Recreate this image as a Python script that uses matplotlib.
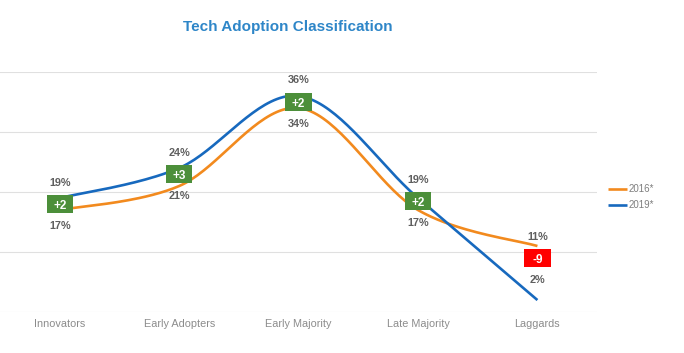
import numpy as np
import matplotlib.pyplot as plt
from matplotlib.patches import Rectangle

plt.rcParams['font.family'] = ['Liberation Sans', 'DejaVu Sans']

categories = ['Innovators', 'Early Adopters', 'Early Majority', 'Late Majority', 'Laggards']
v2016 = [17, 21, 34, 17, 11]
v2019 = [19, 24, 36, 19, 2]
diffs = ['+2', '+3', '+2', '+2', '-9']
box_colors = ['#4C8F3A', '#4C8F3A', '#4C8F3A', '#4C8F3A', '#FF0000']
box_y = [18, 23, 35, 18.5, 9]

orange = '#F28A1E'
blue = '#1769BE'


def smooth(xs, ys, n=40):
    # catmull-rom style smoothing like office charts
    p = np.column_stack([xs, ys]).astype(float)
    p = np.vstack([p[0], p, p[-1]])
    out = []
    for i in range(1, len(p) - 2):
        p0, p1, p2, p3 = p[i - 1], p[i], p[i + 1], p[i + 2]
        c1 = p1 + (p2 - p0) / 6
        c2 = p2 - (p3 - p1) / 6
        t = np.linspace(0, 1, n)[:, None]
        b = (1 - t) ** 3 * p1 + 3 * (1 - t) ** 2 * t * c1 + 3 * (1 - t) * t ** 2 * c2 + t ** 3 * p2
        out.append(b if i == 1 else b[1:])
    b = np.vstack(out)
    return b[:, 0], b[:, 1]


fig = plt.figure(figsize=(6.84, 3.53), dpi=100)
ax = fig.add_axes([0.0, 0.116, 0.873, 0.68])

x = np.arange(len(categories))
sx, sy = smooth(x, v2016)
ax.plot(sx, sy, color=orange, lw=1.9, label='2016*', solid_capstyle='butt')
sx, sy = smooth(x, v2019)
ax.plot(sx, sy, color=blue, lw=1.9, label='2019*', solid_capstyle='butt')

bw, bh = 0.22, 3.1  # box size in data units (~26x18 px)
for i in range(len(categories)):
    ax.add_patch(Rectangle((x[i] - bw / 2, box_y[i] - bh / 2), bw, bh,
                           fc=box_colors[i], ec='none', zorder=4))
    ax.text(x[i], box_y[i], diffs[i], ha='center', va='center_baseline',
            color='white', fontsize=8.5, fontweight='bold', zorder=5)
    hi, lo = max(v2016[i], v2019[i]), min(v2016[i], v2019[i])
    ax.annotate(f'{hi}%', (x[i], box_y[i]), xytext=(0, 15.5), textcoords='offset points',
                ha='center', va='center', fontsize=7.8, fontweight='bold', color='#5F5F5F')
    ax.annotate(f'{lo}%', (x[i], box_y[i]), xytext=(0, -16), textcoords='offset points',
                ha='center', va='center', fontsize=7.8, fontweight='bold', color='#5F5F5F')

ax.set_xlim(-0.5, 4.5)
ax.set_ylim(0, 40)
ax.set_yticks([0, 10, 20, 30, 40])
ax.set_yticklabels([])
ax.set_xticks(x)
ax.set_xticklabels(categories, fontsize=7.8, color='#8C8C8C')
ax.tick_params(length=0, pad=5)
ax.grid(axis='y', color='#E0E0E0', lw=0.8)
for s in ax.spines.values():
    s.set_visible(False)

fig.text(288 / 684, 1 - 27 / 353, 'Tech Adoption Classification', ha='center', va='center',
         fontsize=11, fontweight='bold', color='#2E86C8')

fig.legend(loc='center left', bbox_to_anchor=(599 / 684, 1 - 197 / 353), frameon=False,
           fontsize=7, labelcolor='#7F7F7F', handlelength=2.0, handletextpad=0.1,
           labelspacing=0.6)

fig.savefig('out.png', dpi=100)
